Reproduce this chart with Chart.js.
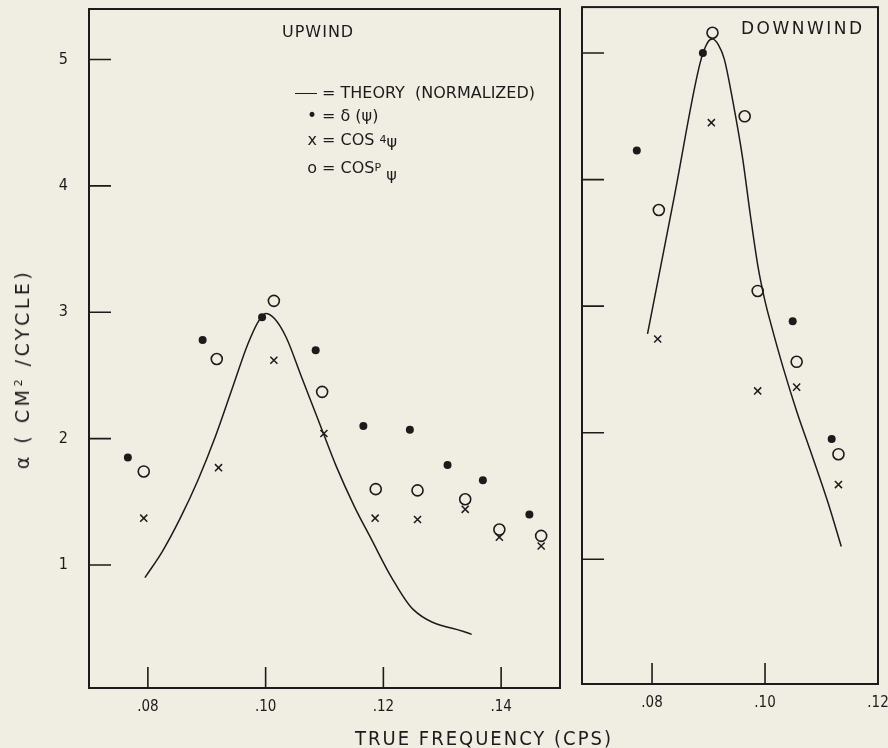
<!DOCTYPE html>
<html lang="en">
<head>
<meta charset="UTF-8">
<title>Upwind / Downwind</title>
<script src="https://cdn.jsdelivr.net/npm/chart.js"></script>
<style>
  body {
    margin: 0;
    width: 888px;
    height: 748px;
    position: relative;
    overflow: hidden;
    background: #f0ede3;
    color: #1b1b1b;
    font-family: 'DejaVu Sans', sans-serif;
  }
  canvas { position: absolute; top: 0; }
  #upChart { left: 0; }
  #downChart { left: 570px; }
  .txt { position: absolute; white-space: nowrap; }
  .panel-name { font-size: 16px; letter-spacing: 1px; }
  .lg {
    position: absolute;
    left: 290px;
    font-size: 16px;
    display: flex;
    align-items: center;
    white-space: nowrap;
  }
  .sym { width: 32px; text-align: right; padding-right: 5px; box-sizing: border-box; }
  .dash { display: inline-block; width: 22px; height: 1.5px; background: #1b1b1b; vertical-align: middle; }
  sup { font-size: 11px; }
  .ytitle {
    left: 22px; top: 369px;
    transform: translate(-50%, -50%) rotate(-90deg);
    font-size: 19px; letter-spacing: 3.5px;
  }
  .xtitle {
    left: 484px; top: 738px;
    transform: translate(-50%, -50%);
    font-family: 'DejaVu Sans Condensed', sans-serif;
    font-size: 20px; letter-spacing: 2px;
  }
</style>
</head>
<body>
<canvas id="upChart" width="570" height="748"></canvas>
<canvas id="downChart" width="318" height="748"></canvas>

<div class="txt panel-name" style="left:282px; top:22px;">UPWIND</div>
<div class="txt panel-name" style="left:741px; top:18px; font-size:17px; letter-spacing:2.5px;">DOWNWIND</div>

<div class="lg" style="top:83px;"><span class="sym"><span class="dash"></span></span>= THEORY&nbsp;&nbsp;(NORMALIZED)</div>
<div class="lg" style="top:105px;"><span class="sym" style="font-size:17px;">&bull;</span>= &delta; (&psi;)</div>
<div class="lg" style="top:130px;"><span class="sym">x</span>= COS&nbsp;<sup>4</sup><span style="position:relative; top:2px;">&psi;</span></div>
<div class="lg" style="top:158px;"><span class="sym">o</span>= COS<sup>P</sup>&nbsp;<span style="position:relative; top:7px;">&psi;</span></div>

<div class="txt ytitle">&alpha; ( CM<sup>2</sup> /CYCLE)</div>
<div class="txt xtitle">TRUE FREQUENCY (CPS)</div>

<script>
// tick values
const yTicks = [1, 2, 3, 4, 5];
const upXTicks = [0.08, 0.10, 0.12, 0.14];
const downXTicks = [0.08, 0.10, 0.12];

// UPWIND
const upTheoryX = [0.0795, 0.0825, 0.0855, 0.0885, 0.0915, 0.0945, 0.0970, 0.0988, 0.1000, 0.1015, 0.1035, 0.1060, 0.1090, 0.1120, 0.1150, 0.1180, 0.1214, 0.1250, 0.1350];
const upTheoryY = [0.90, 1.11, 1.37, 1.67, 2.02, 2.42, 2.75, 2.93, 2.99, 2.95, 2.80, 2.50, 2.14, 1.78, 1.47, 1.20, 0.90, 0.65, 0.45];
const upDeltaX = [0.0766, 0.0893, 0.0994, 0.1085, 0.1166, 0.1245, 0.1309, 0.1369, 0.1448];
const upDeltaY = [1.85, 2.78, 2.96, 2.70, 2.10, 2.07, 1.79, 1.67, 1.40];
const upCos4X = [0.0793, 0.0920, 0.1014, 0.1099, 0.1186, 0.1258, 0.1339, 0.1397, 0.1468];
const upCos4Y = [1.37, 1.77, 2.62, 2.04, 1.37, 1.36, 1.44, 1.22, 1.15];
const upCosPX = [0.0793, 0.0917, 0.1014, 0.1096, 0.1187, 0.1258, 0.1339, 0.1397, 0.1468];
const upCosPY = [1.74, 2.63, 3.09, 2.37, 1.60, 1.59, 1.52, 1.28, 1.23];

// DOWNWIND
const downTheoryX = [0.0792, 0.0840, 0.0885, 0.0898, 0.0907, 0.0918, 0.0928, 0.0943, 0.0960, 0.0974, 0.0988, 0.1000, 0.1011, 0.1033, 0.1056, 0.1084, 0.1112, 0.1135];
const downTheoryY = [2.78, 3.88, 4.92, 5.08, 5.11, 5.06, 4.95, 4.62, 4.18, 3.72, 3.30, 3.04, 2.85, 2.50, 2.17, 1.81, 1.44, 1.10];
const downDeltaX = [0.0773, 0.0890, 0.1049, 0.1118];
const downDeltaY = [4.23, 5.00, 2.88, 1.95];
const downCos4X = [0.0810, 0.0905, 0.0987, 0.1056, 0.1130];
const downCos4Y = [2.74, 4.45, 2.33, 2.36, 1.59];
const downCosPX = [0.0812, 0.0907, 0.0964, 0.0987, 0.1056, 0.1130];
const downCosPY = [3.76, 5.16, 4.50, 3.12, 2.56, 1.83];

const ink = '#1b1b1b';
const pts = (xs, ys) => xs.map((x, i) => ({ x: x, y: ys[i] }));

// box round the plot area + tick marks pointing inwards
const frameTicks = {
  id: 'frameTicks',
  afterDatasetsDraw(chart) {
    const { ctx, chartArea: a, scales: { x, y } } = chart;
    ctx.save();
    ctx.strokeStyle = ink;
    ctx.lineWidth = 2;
    ctx.strokeRect(a.left, a.top, a.right - a.left, a.bottom - a.top);
    ctx.lineWidth = 1.6;
    ctx.beginPath();
    y.ticks.forEach(t => {
      const py = y.getPixelForValue(t.value);
      ctx.moveTo(a.left, py);
      ctx.lineTo(a.left + 22, py);
    });
    x.ticks.forEach(t => {
      const px = x.getPixelForValue(t.value);
      if (px < a.right - 3) {
        ctx.moveTo(px, a.bottom);
        ctx.lineTo(px, a.bottom - 21);
      }
    });
    ctx.stroke();
    ctx.restore();
  }
};

function datasets(tx, ty, dx, dy, c4x, c4y, cpx, cpy) {
  return [
    {
      label: 'THEORY (NORMALIZED)', data: pts(tx, ty), showLine: true,
      borderColor: ink, borderWidth: 1.5, pointRadius: 0, cubicInterpolationMode: 'monotone'
    },
    {
      label: 'δ (ψ)', data: pts(dx, dy), pointStyle: 'circle',
      pointRadius: 4, backgroundColor: ink, borderColor: ink, borderWidth: 0
    },
    {
      label: 'COS 4 ψ', data: pts(c4x, c4y), pointStyle: 'crossRot',
      pointRadius: 5, borderColor: ink, borderWidth: 1.5
    },
    {
      label: 'COS P ψ', data: pts(cpx, cpy), pointStyle: 'circle',
      pointRadius: 5.5, backgroundColor: 'rgba(0,0,0,0)', borderColor: ink, borderWidth: 1.6
    }
  ];
}

function makeChart(id, ds, xr, xTicks, yr, showY, yWidth, xHeight, pad) {
  return new Chart(document.getElementById(id), {
    type: 'scatter',
    data: { datasets: ds },
    options: {
      responsive: false,
      animation: false,
      events: [],
      layout: { padding: pad },
      plugins: { legend: { display: false }, tooltip: { enabled: false } },
      scales: {
        x: {
          type: 'linear', min: xr[0], max: xr[1],
          afterBuildTicks: s => { s.ticks = xTicks.map(v => ({ value: v })); },
          afterFit: s => { s.height = xHeight; s.paddingLeft = 0; s.paddingRight = 0; },
          grid: { display: false },
          border: { display: false },
          ticks: {
            padding: 2, color: ink, maxRotation: 0,
            font: { family: 'DejaVu Sans Condensed', size: 15 },
            callback: v => v.toFixed(2).slice(1)
          }
        },
        y: {
          type: 'linear', min: yr[0], max: yr[1],
          afterBuildTicks: s => { s.ticks = yTicks.map(v => ({ value: v })); },
          afterFit: s => { s.width = yWidth; s.paddingTop = 0; s.paddingBottom = 0; },
          grid: { display: false },
          border: { display: false },
          ticks: {
            display: showY, padding: 13, color: ink,
            font: { family: 'DejaVu Sans Condensed', size: 16 },
            callback: v => String(v)
          }
        }
      }
    },
    plugins: [frameTicks]
  });
}

makeChart('upChart',
  datasets(upTheoryX, upTheoryY, upDeltaX, upDeltaY, upCos4X, upCos4Y, upCosPX, upCosPY),
  [0.07, 0.15], upXTicks, [0.026, 5.40], true, 89, 60,
  { top: 9, right: 10, left: 0, bottom: 0 });

makeChart('downChart',
  datasets(downTheoryX, downTheoryY, downDeltaX, downDeltaY, downCos4X, downCos4Y, downCosPX, downCosPY),
  [0.0676, 0.12], downXTicks, [0.014, 5.363], false, 0, 64,
  { top: 6, right: 10, left: 12, bottom: 0 });
</script>
</body>
</html>
